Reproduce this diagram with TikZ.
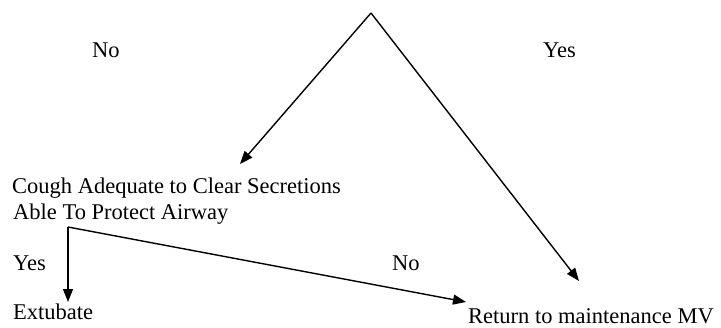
\documentclass[tikz,border=0pt]{standalone}
\usepackage{fontspec}
\setmainfont{Liberation Serif}
\usetikzlibrary{arrows.meta}
\begin{document}
\begin{tikzpicture}[x=1pt,y=-1pt,
  lbl/.style={anchor=base west,inner sep=0pt,font=\fontsize{22.5}{26}\selectfont},
  conn/.style={line width=1.4pt,-{Triangle[length=13pt,width=10pt]}}]
\useasboundingbox (0,0) rectangle (721,327);
\coordinate (apex) at (371,13);
\coordinate (tipL) at (240,164);
\coordinate (tipR) at (579,281);
\coordinate (bend) at (68,227);
\coordinate (tipE) at (68,302);
\coordinate (tipN) at (466,302);
\node[lbl] (no1) at (92,57) {No};
\node[lbl] (yes1) at (543,57) {Yes};
\node[lbl] (cough) at (12,193) {Cough Adequate to Clear Secretions};
\node[lbl] (able) at (13,219) {Able To Protect Airway};
\node[lbl] (yes2) at (13,270) {Yes};
\node[lbl] (no2) at (392,270) {No};
\node[lbl] (ext) at (13,319) {Extubate};
\node[lbl] (ret) at (468,323) {Return to maintenance MV};
\draw[conn] (apex) -- (tipL);
\draw[conn] (apex) -- (tipR);
\draw[conn] (bend) -- (tipE);
\draw[conn] (bend) -- (tipN);
\end{tikzpicture}
\end{document}
